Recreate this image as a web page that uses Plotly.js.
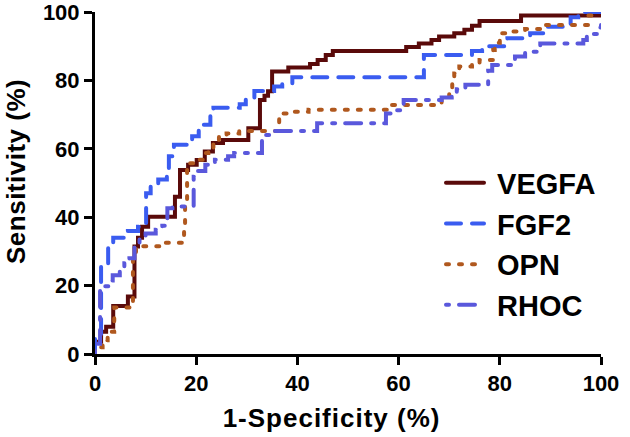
<!DOCTYPE html>
<html>
<head>
<meta charset="utf-8">
<script src="https://cdn.plot.ly/plotly-3.0.1.min.js"></script>
<style>
  html, body { margin: 0; padding: 0; background: #fff; }
  #chart { width: 630px; height: 437px; }
  .scatterlayer .js-line, .legend .js-line { stroke-linecap: round; }
  .xtitle { letter-spacing: 1px; }
  .ytitle { letter-spacing: 0.5px; }
</style>
</head>
<body>
<div id="chart"></div>
<script>
// ROC step curves: each point is where the curve jumps (x = 1-Specificity %, y = new Sensitivity %)
const seriesNames = ["VEGFA", "FGF2", "OPN", "RHOC"];

const vegfaX = [0, 0, 1.2, 2.2, 3.6, 6.5, 7.8, 8.5, 9.3, 10.5, 15.8, 16.8, 18.4, 20.1, 21.7, 23.3, 25.3, 30.3, 32.6, 33.5, 34.2, 35.0, 38.2, 42.5, 44.0, 45.6, 47.0, 61.5, 64.0, 66.5, 68.0, 71.0, 73.0, 74.5, 76.0, 84.2, 100];
const vegfaY = [0, 3.6, 6.5, 8.0, 14.0, 16.8, 31.4, 34.0, 37.2, 40.1, 46.0, 53.8, 55.3, 56.7, 59.2, 61.7, 62.6, 66.0, 74.3, 75.5, 76.8, 82.6, 83.8, 84.8, 86.0, 87.4, 88.6, 89.8, 90.8, 91.8, 92.8, 93.8, 94.8, 96.0, 97.4, 99.0, 99.0];

const fgf2X = [0, 0, 1.2, 2.6, 3.6, 6.5, 8.5, 10.1, 11.0, 12.5, 14.2, 14.6, 15.3, 15.6, 19.2, 20.5, 21.5, 22.8, 23.4, 28.6, 29.8, 31.5, 35.4, 37.0, 39.0, 65.0, 74.5, 76.5, 81.5, 86.0, 89.5, 94.0, 95.5, 100];
const fgf2Y = [0, 4.5, 26.5, 31.5, 34.0, 36.0, 37.2, 47.0, 49.0, 51.0, 52.5, 57.8, 59.5, 61.2, 63.7, 65.7, 67.0, 69.6, 72.0, 73.0, 74.5, 76.9, 78.2, 78.9, 80.9, 87.4, 88.6, 90.0, 92.3, 93.8, 95.7, 98.5, 100, 100];

const opnX = [0, 0, 1.5, 2.5, 3.8, 7.5, 8.1, 14.0, 17.6, 17.8, 18.2, 18.6, 20.0, 21.8, 22.4, 23.4, 24.5, 26.0, 28.5, 36.4, 38.0, 42.2, 58.0, 67.5, 68.5, 70.0, 70.6, 71.0, 72.0, 74.5, 76.0, 78.7, 79.0, 80.0, 82.7, 85.0, 88.5, 97.5, 100];
const opnY = [0, 2.0, 4.0, 6.5, 13.6, 28.4, 31.5, 32.5, 38.0, 43.5, 53.9, 55.8, 56.8, 58.8, 60.3, 61.7, 63.5, 64.5, 65.2, 70.3, 70.8, 71.4, 72.8, 73.5, 75.2, 77.4, 79.4, 82.0, 84.1, 85.0, 86.0, 88.9, 91.0, 93.8, 94.3, 95.0, 96.2, 99.0, 99.0];

const rhocX = [0, 0, 1.0, 1.6, 2.9, 3.5, 4.9, 5.8, 6.8, 7.8, 8.8, 10.0, 12.0, 13.3, 14.3, 15.3, 19.5, 20.3, 21.8, 23.7, 26.3, 27.5, 33.0, 33.8, 35.0, 43.9, 57.5, 59.0, 61.0, 68.5, 70.5, 71.5, 73.2, 77.7, 78.5, 83.0, 85.0, 88.0, 96.5, 97.2, 99.3, 100];
const rhocY = [0, 3.0, 18.5, 19.8, 21.5, 23.0, 24.8, 26.5, 28.0, 31.3, 33.8, 35.2, 36.3, 37.5, 42.6, 43.1, 51.8, 53.5, 55.3, 56.8, 57.8, 58.8, 62.7, 64.0, 65.2, 67.5, 70.3, 71.3, 74.3, 75.0, 76.2, 77.4, 78.7, 82.8, 84.5, 87.0, 88.4, 90.8, 91.8, 93.6, 95.5, 96.2];

const xTickVals = [0, 20, 40, 60, 80, 100];
const yTickVals = [0, 20, 40, 60, 80, 100];

const colors = ["#5a0a0a", "#3a5cf0", "#b0581e", "#5a58dc"];
const dashes = ["solid", "15px,11px", "3px,10px", "3px,10px,16px,10px"];
const xs = [vegfaX, fgf2X, opnX, rhocX];
const ys = [vegfaY, fgf2Y, opnY, rhocY];

const traces = seriesNames.map((name, i) => ({
  type: "scatter",
  mode: "lines",
  name: "<b>\u00a0" + name + "</b>",
  x: xs[i],
  y: ys[i],
  line: { shape: "hv", color: colors[i], width: 4, dash: dashes[i] },
  hoverinfo: "skip"
}));

const FAM = "Arial, 'Liberation Sans', sans-serif";
const tickFont = { family: FAM, size: 22, color: "#000", weight: 700 };
const titleFont = { family: FAM, size: 26, color: "#000", weight: 700 };
const NB = "\u00a0";

const layout = {
  width: 630,
  height: 437,
  margin: { l: 95, r: 29, t: 12, b: 83 },
  paper_bgcolor: "#fff",
  plot_bgcolor: "#fff",
  showlegend: true,
  legend: {
    x: (441 - 95) / 506, xanchor: "left",
    y: 0.322, yanchor: "middle",
    font: { family: FAM, size: 29, color: "#000", weight: 700 },
    bgcolor: "rgba(0,0,0,0)",
    borderwidth: 0,
    itemwidth: 38
  },
  xaxis: {
    range: [0, 100],
    tickvals: xTickVals,
    ticktext: xTickVals.map(v => "<b>" + v + "</b>"),
    showgrid: false, zeroline: false,
    showline: true, linecolor: "#000", linewidth: 3,
    ticks: "outside", ticklen: 8, tickwidth: 3, tickcolor: "#000",
    tickfont: tickFont,
    ticklabeloverflow: "allow",
    title: { text: "<b>1-Specificity (%)" + NB.repeat(4) + "</b>", font: titleFont, standoff: 14 }
  },
  yaxis: {
    range: [0, 100],
    tickvals: yTickVals,
    ticktext: yTickVals.map(v => "<b>" + v + "</b>"),
    showgrid: false, zeroline: false,
    showline: true, linecolor: "#000", linewidth: 3,
    ticks: "outside", ticklen: 8, tickwidth: 3, tickcolor: "#000",
    tickfont: tickFont,
    ticklabeloverflow: "allow",
    title: { text: "<b>" + NB.repeat(3) + "Sensitivity (%)</b>", font: titleFont, standoff: 10 }
  }
};

Plotly.newPlot("chart", traces, layout, { displayModeBar: false, staticPlot: true });
</script>
</body>
</html>
